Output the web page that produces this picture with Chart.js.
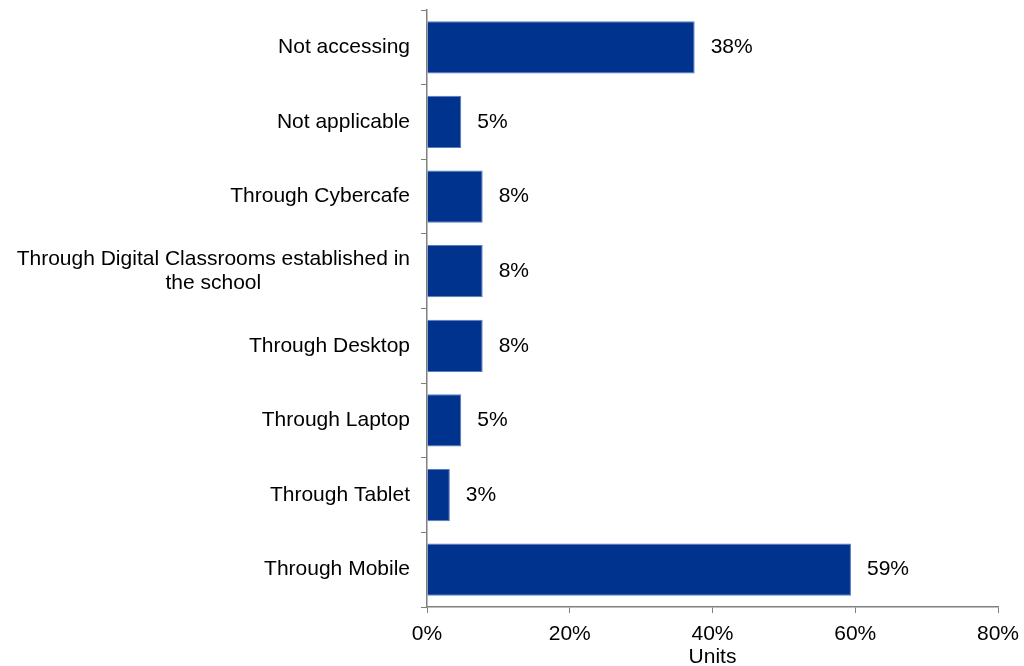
<!DOCTYPE html>
<html>
<head>
<meta charset="utf-8">
<script src="https://cdn.jsdelivr.net/npm/chart.js@4/dist/chart.umd.min.js"></script>
<style>
  body { margin: 0; background: #fff; }
  #wrap { width: 1024px; height: 666px; position: relative; }
</style>
</head>
<body>
<div id="wrap"><canvas id="access"></canvas></div>
<script>
// Data
var categories = [
  'Not accessing',
  'Not applicable',
  'Through Cybercafe',
  ['Through Digital Classrooms established in', 'the school'],
  'Through Desktop',
  'Through Laptop',
  'Through Tablet',
  'Through Mobile'
];
var shares = [37.5, 4.8, 7.8, 7.8, 7.8, 4.8, 3.2, 59.4];
var xTicks = [0, 20, 40, 60, 80];

var FONT = '"Liberation Sans", Arial, sans-serif';
var AXIS = '#808080';

//
// labels drawn by hand (category labels + values at bar ends)
//
var labelPlugin = {
  id: 'labelPlugin',
  afterDraw: function (chart) {
    var ctx = chart.ctx;
    var y = chart.scales.y;
    ctx.save();
    ctx.font = '21px ' + FONT;
    ctx.fillStyle = '#000';
    ctx.textBaseline = 'middle';
    ctx.textAlign = 'center';

    // category labels, right edge next to the axis, extra lines centred
    categories.forEach(function (lab, i) {
      var lines = Array.isArray(lab) ? lab : [lab];
      var w = 0;
      lines.forEach(function (l) { w = Math.max(w, ctx.measureText(l).width); });
      var cy = y.getPixelForValue(i);
      var lh = 24;
      var top = cy - (lines.length - 1) * lh / 2;
      lines.forEach(function (l, k) {
        ctx.fillText(l, y.right - 17 - w / 2, top + k * lh);
      });
    });

    // value labels
    ctx.textAlign = 'left';
    chart.getDatasetMeta(0).data.forEach(function (bar, i) {
      ctx.fillText(Math.round(shares[i]) + '%', bar.x + 16, bar.y);
    });
    ctx.restore();
  }
};

var ctx = document.getElementById('access').getContext('2d');
var chart = new Chart(ctx, {
  type: 'bar',
  data: {
    labels: categories.map(function (c) { return Array.isArray(c) ? c.join(' ') : c; }),
    datasets: [{
      data: shares,
      backgroundColor: '#00338d',
      borderColor: '#5b7bbd',
      borderWidth: 1,
      borderSkipped: 'start',
      barPercentage: 0.7,
      categoryPercentage: 1
    }]
  },
  options: {
    indexAxis: 'y',
    responsive: true,
    maintainAspectRatio: false,
    animation: false,
    layout: { padding: { top: 10, right: 26, left: 0, bottom: 0 } },
    plugins: {
      legend: { display: false },
      tooltip: { enabled: false }
    },
    scales: {
      x: {
        min: 0,
        max: 80,
        afterBuildTicks: function (scale) {
          scale.ticks = xTicks.map(function (v) { return { value: v }; });
        },
        afterFit: function (scale) {
          scale.height = 59;
          scale.paddingLeft = 0;
          scale.paddingRight = 0;
        },
        grid: { drawOnChartArea: false, color: AXIS, tickLength: 6, lineWidth: 1 },
        border: { color: AXIS, width: 1.5 },
        ticks: {
          color: '#000',
          font: { family: FONT, size: 21, lineHeight: 1 },
          padding: 11,
          maxRotation: 0,
          callback: function (v) { return v + '%'; }
        },
        title: {
          display: true,
          text: 'Units',
          color: '#000',
          font: { family: FONT, size: 21, lineHeight: 1 },
          padding: { top: 0, bottom: -2 }
        }
      },
      y: {
        offset: true,
        afterFit: function (scale) { scale.width = 427; },
        grid: { offset: true, drawOnChartArea: false, color: AXIS, tickLength: 6, lineWidth: 1 },
        border: { color: AXIS, width: 1.5 },
        ticks: { display: false }
      }
    }
  },
  plugins: [labelPlugin]
});
</script>
</body>
</html>
